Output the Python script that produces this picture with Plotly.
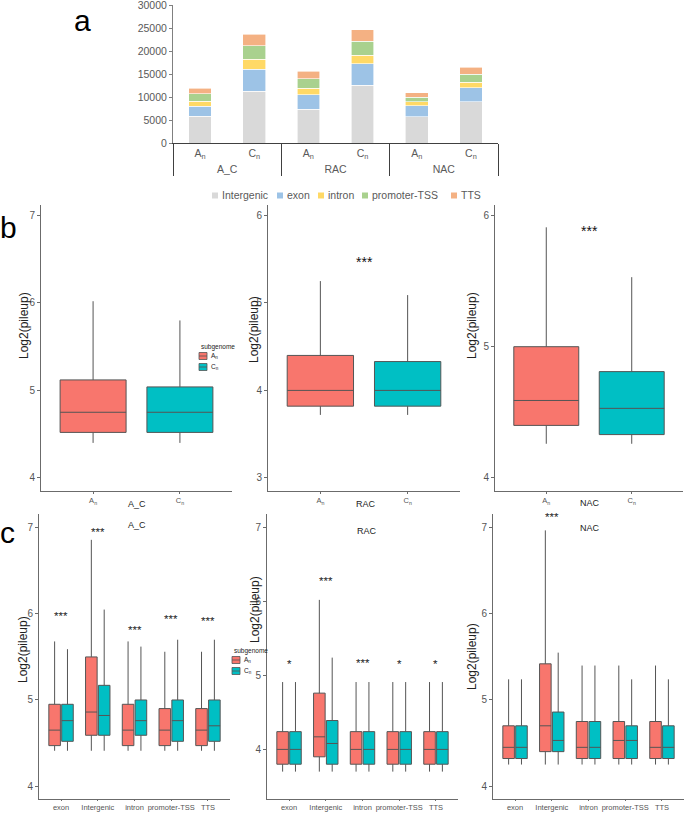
import plotly.graph_objects as go

W, H = 685, 813
def fx(p):
    return p / W
def fy(p):
    return 1 - p / H

FONT = "Liberation Sans, Arial, sans-serif"
GRAY = "#595959"

# ---------------- panel a : stacked peak counts ----------------
a_groups = ["A_C", "A_C", "RAC", "RAC", "NAC", "NAC"]
a_subgenomes = ["A<sub>n</sub>", "C<sub>n</sub>", "A<sub>n</sub>", "C<sub>n</sub>", "A<sub>n</sub>", "C<sub>n</sub>"]
a_features = ["Intergenic", "exon", "intron", "promoter-TSS", "TTS"]
a_intergenic = [5900, 11300, 7400, 12600, 5800, 9000]
a_exon = [2200, 4800, 3200, 4700, 2400, 3100]
a_intron = [1100, 2200, 1400, 1900, 850, 1150]
a_promoter = [1600, 2900, 2100, 3000, 1000, 1800]
a_tts = [1200, 2500, 1600, 2500, 950, 1450]
a_colors = ["#d9d9d9", "#9dc3e6", "#ffd966", "#a9d18e", "#f4b183"]

# ---------------- panel b : overall pileup boxes ----------------
sub_names = ["A<sub>n</sub>", "C<sub>n</sub>"]
sub_colors = ["#F8766D", "#00BFC4"]
b_sets = ["A_C", "RAC", "NAC"]
# order of each list: lower whisker, q1, median, q3, upper whisker
b_AC_An = [4.40, 4.52, 4.75, 5.12, 6.02]
b_AC_Cn = [4.40, 4.52, 4.75, 5.04, 5.80]
b_RAC_An = [3.72, 3.82, 4.00, 4.40, 5.25]
b_RAC_Cn = [3.72, 3.82, 4.00, 4.33, 5.09]
b_NAC_An = [4.26, 4.40, 4.59, 5.00, 5.91]
b_NAC_Cn = [4.26, 4.33, 4.53, 4.81, 5.53]
b_signif = ["", "***", "***"]
b_signif_y = [0, 5.47, 5.88]
b_yranges = [[3.85, 7.12], [2.85, 6.12], [3.90, 6.08]]

# ---------------- panel c : pileup by feature ----------------
c_categories = ["exon", "Intergenic", "intron", "promoter-TSS", "TTS"]
# A_C
c_AC_An_low = [4.41, 4.41, 4.41, 4.41, 4.41]
c_AC_An_q1 = [4.47, 4.59, 4.47, 4.47, 4.47]
c_AC_An_med = [4.65, 4.86, 4.65, 4.65, 4.65]
c_AC_An_q3 = [4.95, 5.50, 4.95, 4.90, 4.90]
c_AC_An_up = [5.68, 6.86, 5.68, 5.56, 5.56]
c_AC_Cn_low = [4.41, 4.41, 4.41, 4.41, 4.41]
c_AC_Cn_q1 = [4.52, 4.59, 4.59, 4.52, 4.52]
c_AC_Cn_med = [4.76, 4.82, 4.76, 4.76, 4.70]
c_AC_Cn_q3 = [4.95, 5.17, 5.00, 5.00, 5.00]
c_AC_Cn_up = [5.59, 6.05, 5.62, 5.70, 5.70]
c_AC_signif = ["***", "***", "***", "***", "***"]
c_AC_signif_y = [5.97, 6.95, 5.81, 5.94, 5.92]
# RAC
c_RAC_An_low = [3.70, 3.70, 3.70, 3.70, 3.70]
c_RAC_An_q1 = [3.80, 3.90, 3.80, 3.80, 3.80]
c_RAC_An_med = [4.00, 4.17, 4.00, 4.00, 4.00]
c_RAC_An_q3 = [4.24, 4.76, 4.24, 4.24, 4.24]
c_RAC_An_up = [4.91, 6.02, 4.91, 4.91, 4.91]
c_RAC_Cn_low = [3.70, 3.70, 3.70, 3.70, 3.70]
c_RAC_Cn_q1 = [3.80, 3.80, 3.80, 3.80, 3.80]
c_RAC_Cn_med = [4.00, 4.08, 4.00, 4.00, 4.00]
c_RAC_Cn_q3 = [4.24, 4.39, 4.24, 4.24, 4.24]
c_RAC_Cn_up = [4.91, 5.24, 4.91, 4.91, 4.91]
c_RAC_signif = ["*", "***", "***", "*", "*"]
c_RAC_signif_y = [5.16, 6.27, 5.17, 5.15, 5.15]
# NAC
c_NAC_An_low = [4.25, 4.25, 4.25, 4.25, 4.25]
c_NAC_An_q1 = [4.32, 4.40, 4.32, 4.32, 4.32]
c_NAC_An_med = [4.45, 4.70, 4.45, 4.53, 4.45]
c_NAC_An_q3 = [4.70, 5.42, 4.75, 4.75, 4.75]
c_NAC_An_up = [5.24, 6.97, 5.40, 5.40, 5.40]
c_NAC_Cn_low = [4.25, 4.25, 4.25, 4.25, 4.25]
c_NAC_Cn_q1 = [4.32, 4.40, 4.32, 4.32, 4.32]
c_NAC_Cn_med = [4.45, 4.53, 4.45, 4.53, 4.45]
c_NAC_Cn_q3 = [4.70, 4.86, 4.75, 4.70, 4.70]
c_NAC_Cn_up = [5.24, 5.55, 5.40, 5.24, 5.24]
c_NAC_signif = ["", "***", "", "", ""]
c_NAC_signif_y = [0, 7.13, 0, 0, 0]
c_yranges = [[3.85, 7.16], [3.33, 7.18], [3.85, 7.16]]

fig = go.Figure()

# ---- panel a traces
for name, vals, col in zip(a_features, [a_intergenic, a_exon, a_intron, a_promoter, a_tts], a_colors):
    fig.add_trace(go.Bar(x=[a_groups, a_subgenomes], y=vals, name=name,
                         marker=dict(color=col, line=dict(color="white", width=0.6)),
                         xaxis="x", yaxis="y", showlegend=False))

BOXLINE = "#555555"

# ---- panel b traces (one slot per category)
b_data = [(b_AC_An, b_AC_Cn), (b_RAC_An, b_RAC_Cn), (b_NAC_An, b_NAC_Cn)]
for i, (an, cn) in enumerate(b_data):
    ax = i + 2
    for j, stats in enumerate([an, cn]):
        fig.add_trace(go.Box(
            x=[sub_names[j]], lowerfence=[stats[0]], q1=[stats[1]], median=[stats[2]],
            q3=[stats[3]], upperfence=[stats[4]], name=sub_names[j],
            fillcolor=sub_colors[j], line=dict(color=BOXLINE, width=1), whiskerwidth=0,
            boxpoints=False, alignmentgroup="b%d" % i, offsetgroup="b%d" % i, width=0.76,
            xaxis="x%d" % ax, yaxis="y%d" % ax, showlegend=False))

# ---- panel c traces (dodged by subgenome)
c_data = [
    ((c_AC_An_low, c_AC_An_q1, c_AC_An_med, c_AC_An_q3, c_AC_An_up),
     (c_AC_Cn_low, c_AC_Cn_q1, c_AC_Cn_med, c_AC_Cn_q3, c_AC_Cn_up)),
    ((c_RAC_An_low, c_RAC_An_q1, c_RAC_An_med, c_RAC_An_q3, c_RAC_An_up),
     (c_RAC_Cn_low, c_RAC_Cn_q1, c_RAC_Cn_med, c_RAC_Cn_q3, c_RAC_Cn_up)),
    ((c_NAC_An_low, c_NAC_An_q1, c_NAC_An_med, c_NAC_An_q3, c_NAC_An_up),
     (c_NAC_Cn_low, c_NAC_Cn_q1, c_NAC_Cn_med, c_NAC_Cn_q3, c_NAC_Cn_up)),
]
for i, pair in enumerate(c_data):
    ax = i + 5
    for j, st in enumerate(pair):
        fig.add_trace(go.Box(
            x=c_categories, lowerfence=st[0], q1=st[1], median=st[2], q3=st[3], upperfence=st[4],
            name=sub_names[j], fillcolor=sub_colors[j], line=dict(color=BOXLINE, width=1),
            whiskerwidth=0, boxpoints=False,
            alignmentgroup="c%d" % i, offsetgroup="c%d_%d" % (i, j),
            xaxis="x%d" % ax, yaxis="y%d" % ax, showlegend=False))

# ---- axes
layout = dict(
    width=W, height=H, margin=dict(l=0, r=0, t=0, b=0, autoexpand=False),
    paper_bgcolor="white", plot_bgcolor="white",
    font=dict(family=FONT, color="#333333"),
    barmode="stack", bargap=0.58, boxmode="group", boxgap=0.3, boxgroupgap=0.1,
    showlegend=False,
)
layout["xaxis"] = dict(domain=[fx(173), fx(498)], anchor="y", type="multicategory",
                       showline=True, linecolor="#404040", linewidth=1, automargin=False,
                       showdividers=True, dividercolor="#404040", dividerwidth=1,
                       tickfont=dict(size=10.5, color=GRAY), ticks="")
layout["yaxis"] = dict(domain=[fy(143.3), fy(5)], anchor="x", range=[0, 30100], dtick=5000,
                       tickformat="d", showline=True, linecolor="#808080", linewidth=1,
                       ticks="outside", ticklen=3, tickcolor="#808080", ticklabeloverflow="allow",
                       automargin=False,
                       showgrid=False, zeroline=False, tickfont=dict(size=10.5, color=GRAY))

b_xdom = [[41, 232], [268, 460], [495, 683]]
c_xdom = [[39, 230], [267, 458], [493, 684]]
axis_common = dict(showline=True, linecolor="#6b6b6b", linewidth=1, ticks="outside",
                   tickcolor="#6b6b6b", showgrid=False, zeroline=False, automargin=False)
for i in range(3):
    ax = i + 2
    layout["xaxis%d" % ax] = dict(domain=[fx(b_xdom[i][0]), fx(b_xdom[i][1])], anchor="y%d" % ax,
                                  type="category", categoryorder="array", categoryarray=sub_names,
                                  range=[-0.6, len(sub_names) - 0.4], ticklen=2, tickangle=0,
                                  tickfont=dict(size=7.5, color="#555555"), **axis_common)
    layout["yaxis%d" % ax] = dict(domain=[fy(491), fy(205)], anchor="x%d" % ax,
                                  range=b_yranges[i], dtick=1, ticklen=3,
                                  tickfont=dict(size=10, color="#555555"), **axis_common)
for i in range(3):
    ax = i + 5
    layout["xaxis%d" % ax] = dict(domain=[fx(c_xdom[i][0]), fx(c_xdom[i][1])], anchor="y%d" % ax,
                                  type="category", categoryorder="array", categoryarray=c_categories,
                                  range=[-0.6, len(c_categories) - 0.4], ticklen=1, tickangle=0,
                                  ticklabeloverflow="allow",
                                  tickfont=dict(size=7.5, color="#555555"), **axis_common)
    layout["yaxis%d" % ax] = dict(domain=[fy(799), fy(514)], anchor="x%d" % ax,
                                  range=c_yranges[i], dtick=1, ticklen=3,
                                  tickfont=dict(size=10, color="#555555"), **axis_common)

ann = []
shapes = []

# ---- legend of panel a (swatch + label)
a_leg_x = [212, 277, 318, 362, 451]
a_leg_y = 195.5
for name, col, x in zip(a_features, a_colors, a_leg_x):
    shapes.append(dict(type="rect", xref="paper", yref="paper", x0=fx(x), x1=fx(x + 6),
                       y0=fy(a_leg_y + 3), y1=fy(a_leg_y - 3), fillcolor=col, line=dict(width=0)))
    ann.append(dict(text=name, x=fx(x + 8), y=fy(a_leg_y), xref="paper", yref="paper",
                    showarrow=False, xanchor="left", yanchor="middle",
                    font=dict(size=10.5, color=GRAY)))

# ---- subgenome legends of panels b and c
for (lx, ly) in [(199, 347), (232, 651)]:
    ann.append(dict(text="subgenome", x=fx(lx), y=fy(ly), xref="paper", yref="paper",
                    showarrow=False, xanchor="left", yanchor="middle",
                    font=dict(size=6.5, color="#222222")))
    for j, (nm, col) in enumerate(zip(sub_names, sub_colors)):
        yc = ly + 9 + j * 11
        shapes.append(dict(type="rect", xref="paper", yref="paper", x0=fx(lx), x1=fx(lx + 8),
                           y0=fy(yc + 3.5), y1=fy(yc - 3.5), fillcolor=col,
                           line=dict(color=BOXLINE, width=0.8)))
        shapes.append(dict(type="line", xref="paper", yref="paper", x0=fx(lx), x1=fx(lx + 8),
                           y0=fy(yc), y1=fy(yc), line=dict(color=BOXLINE, width=0.8)))
        ann.append(dict(text=nm, x=fx(lx + 10), y=fy(yc), xref="paper", yref="paper",
                        showarrow=False, xanchor="left", yanchor="middle",
                        font=dict(size=6.5, color="#222222")))

# panel letters
for letter, x, y in [("a", 72, 20), ("b", -2, 228), ("c", -2, 532)]:
    ann.append(dict(text=letter, x=fx(x), y=fy(y), xref="paper", yref="paper", showarrow=False,
                    font=dict(size=30, color="black", family=FONT), xanchor="left", yanchor="middle"))
# panel b x titles
b_xtitle_pos = [(137, 504), (366, 504), (590, 503)]
for i in range(3):
    ann.append(dict(text=b_sets[i], x=fx(b_xtitle_pos[i][0]), y=fy(b_xtitle_pos[i][1]),
                    xref="paper", yref="paper", showarrow=False,
                    font=dict(size=9, color="#222222"), xanchor="center", yanchor="middle"))
# y titles
b_ytitle_pos = [(24, 326), (254, 330), (472, 326)]
c_ytitle_pos = [(23, 650), (255, 610), (472, 657)]
for (x, y) in b_ytitle_pos + c_ytitle_pos:
    ann.append(dict(text="Log2(pileup)", x=fx(x), y=fy(y), xref="paper", yref="paper",
                    showarrow=False, textangle=-90, font=dict(size=12, color="#222222"),
                    xanchor="center", yanchor="middle"))
# panel c titles
c_title_pos = [(137, 525), (367, 531), (590, 528)]
for i in range(3):
    ann.append(dict(text=b_sets[i], x=fx(c_title_pos[i][0]), y=fy(c_title_pos[i][1]),
                    xref="paper", yref="paper", showarrow=False,
                    font=dict(size=9, color="#222222"), xanchor="center", yanchor="middle"))
# significance marks
for i in range(3):
    if b_signif[i]:
        ax = i + 2
        ann.append(dict(text=b_signif[i], x=(len(sub_names) - 1) / 2, y=b_signif_y[i],
                        xref="x%d" % ax, yref="y%d" % ax,
                        showarrow=False, font=dict(size=14, color="#111111")))
for i, (marks, ys) in enumerate([(c_AC_signif, c_AC_signif_y), (c_RAC_signif, c_RAC_signif_y),
                                 (c_NAC_signif, c_NAC_signif_y)]):
    ax = i + 5
    for k, (m, yv) in enumerate(zip(marks, ys)):
        if m:
            ann.append(dict(text=m, x=c_categories[k], y=yv, xref="x%d" % ax, yref="y%d" % ax,
                            showarrow=False, font=dict(size=11.5, color="#222222")))
layout["annotations"] = ann
layout["shapes"] = shapes

fig.update_layout(**layout)
# remove the browser's default 8px page margin so the figure starts at the window corner
fig.write_html("out.html", config={"displayModeBar": False},
               post_script="document.body.style.margin='0px';")
